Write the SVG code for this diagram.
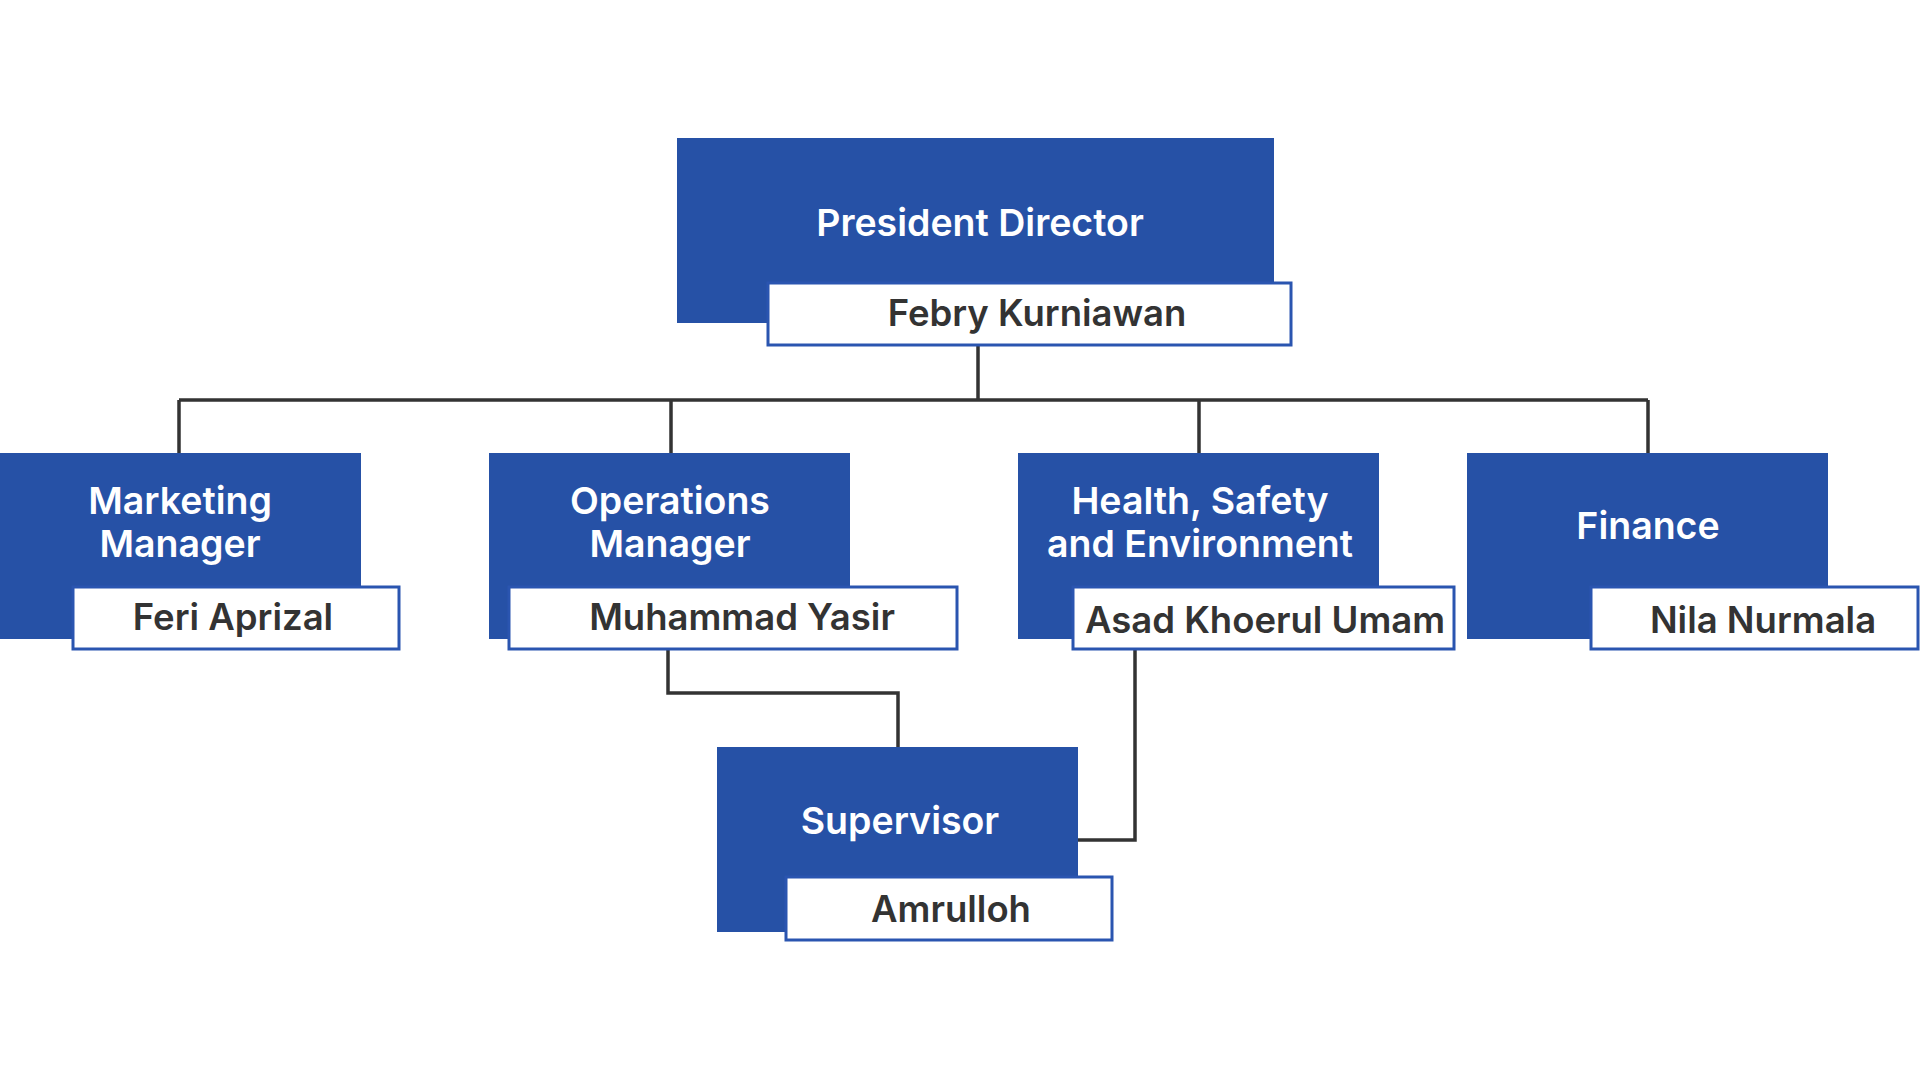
<svg xmlns="http://www.w3.org/2000/svg" width="1920" height="1080" viewBox="0 0 1920 1080">
<style>
.role{fill:#2651a6}
.name{fill:#fff;stroke:#2a55b0;stroke-width:3}
.t{font-family:Inter,"Noto Sans",sans-serif;font-weight:600;text-anchor:middle}
.tw{fill:#fff;font-size:37.5px}
.td{fill:#333;font-size:36.5px}
.conn{fill:none;stroke:#333;stroke-width:3.5}
</style>
<rect width="1920" height="1080" fill="#fff"/>
<g id="connectors" class="conn">
<path d="M978 345V400M179 400H1648M179 400V453M671 400V453M1199 400V453M1648 400V453"/>
<path d="M668 650V693H898V747"/>
<path d="M1135 650V840H1078"/>
</g>
<g id="president">
<rect class="role" x="677" y="138" width="597" height="185"/>
<rect class="name" x="768" y="283" width="523" height="62"/>
<text class="t tw" x="980" y="236">President Director</text>
<text class="t td" x="1037" y="326">Febry Kurniawan</text>
</g>
<g id="marketing">
<rect class="role" x="0" y="453" width="361" height="186"/>
<rect class="name" x="73" y="587" width="326" height="62"/>
<text class="t tw" x="180" y="514">Marketing</text>
<text class="t tw" x="180" y="557">Manager</text>
<text class="t td" x="233" y="630">Feri Aprizal</text>
</g>
<g id="operations">
<rect class="role" x="489" y="453" width="361" height="186"/>
<rect class="name" x="509" y="587" width="448" height="62"/>
<text class="t tw" x="670" y="514">Operations</text>
<text class="t tw" x="670" y="557">Manager</text>
<text class="t td" x="742" y="630">Muhammad Yasir</text>
</g>
<g id="hse">
<rect class="role" x="1018" y="453" width="361" height="186"/>
<rect class="name" x="1073" y="587" width="381" height="62"/>
<text class="t tw" x="1200" y="514">Health, Safety</text>
<text class="t tw" x="1200" y="557">and Environment</text>
<text class="t td" x="1265" y="633">Asad Khoerul Umam</text>
</g>
<g id="finance">
<rect class="role" x="1467" y="453" width="361" height="186"/>
<rect class="name" x="1591" y="587" width="327" height="62"/>
<text class="t tw" x="1648" y="539">Finance</text>
<text class="t td" x="1763" y="633">Nila Nurmala</text>
</g>
<g id="supervisor">
<rect class="role" x="717" y="747" width="361" height="185"/>
<rect class="name" x="786" y="877" width="326" height="63"/>
<text class="t tw" x="900" y="834">Supervisor</text>
<text class="t td" x="951" y="922">Amrulloh</text>
</g>
</svg>
